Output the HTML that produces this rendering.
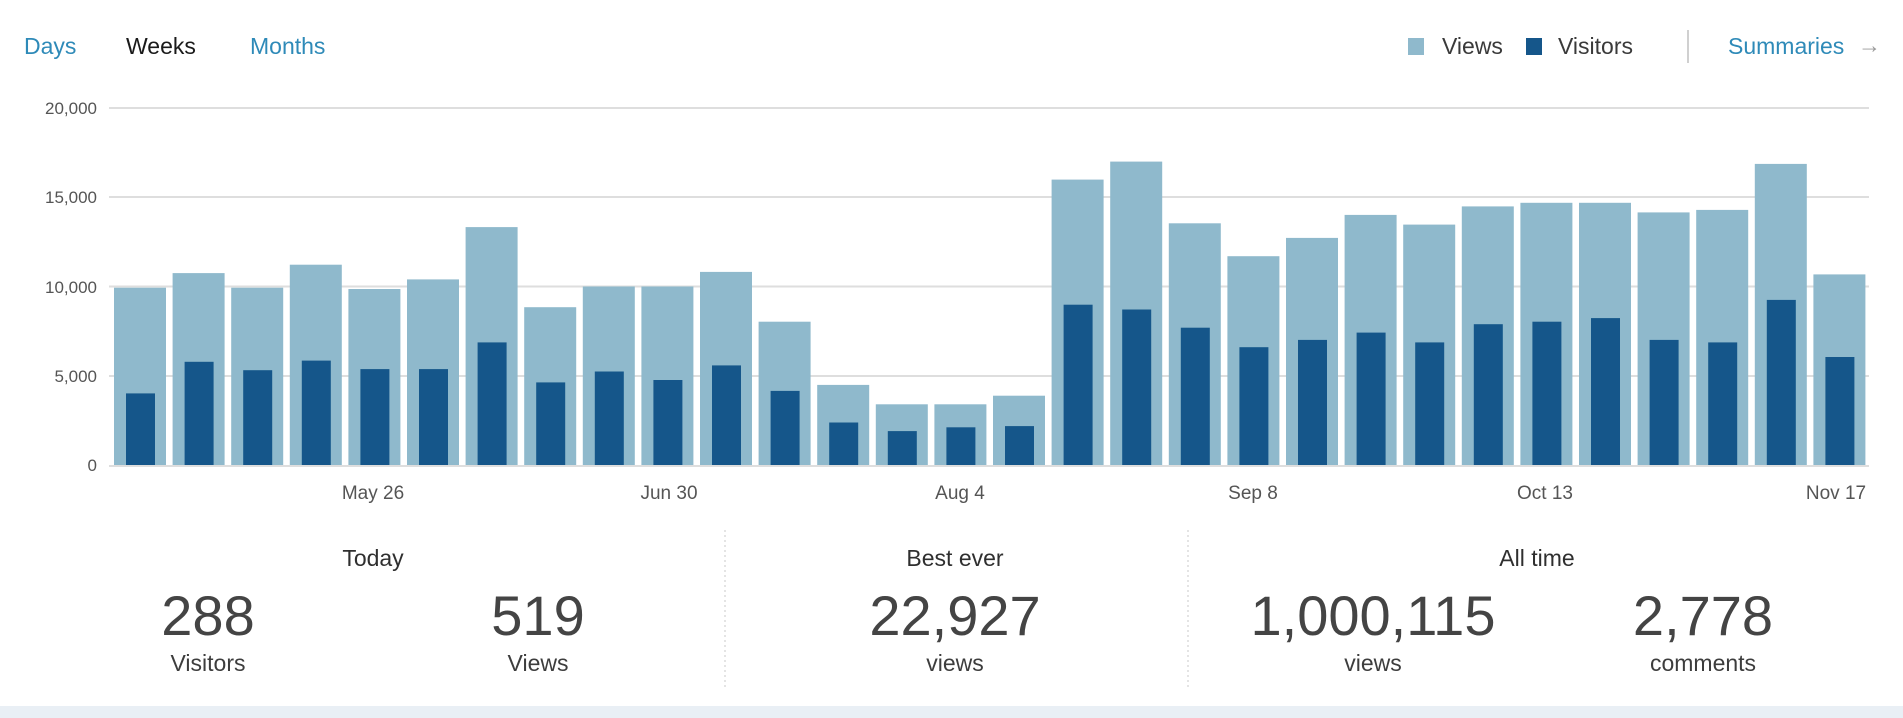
<!DOCTYPE html>
<html><head><meta charset="utf-8"><style>
body{margin:0;width:1903px;height:718px;background:#fff;overflow:hidden;font-family:"Liberation Sans",sans-serif;}
</style></head><body>
<svg width="1903" height="718" xmlns="http://www.w3.org/2000/svg" style="display:block">
<rect x="0" y="706" width="1903" height="12" fill="#e9eff5"/>
<g font-size="23" font-family="Liberation Sans, sans-serif">
<text x="24" y="54" fill="#2e8ab8">Days</text>
<text x="126" y="54" fill="#1a1a1a">Weeks</text>
<text x="250" y="54" fill="#2e8ab8">Months</text>
<rect x="1408" y="38" width="16" height="17" fill="#8fb9cc"/>
<text x="1442" y="54" fill="#3a3a3a">Views</text>
<rect x="1526" y="38" width="16" height="17" fill="#15568a"/>
<text x="1558" y="54" fill="#3a3a3a">Visitors</text>
<rect x="1687" y="30" width="2" height="33" fill="#d0d0d0"/>
<text x="1728" y="54" fill="#2e8ab8">Summaries</text>
<text x="1858" y="53" fill="#999" font-size="23">→</text>
</g>
<g stroke="#dedede" stroke-width="2">
<line x1="109" y1="108" x2="1869" y2="108"/>
<line x1="109" y1="197" x2="1869" y2="197"/>
<line x1="109" y1="286.5" x2="1869" y2="286.5"/>
<line x1="109" y1="376" x2="1869" y2="376"/>
<line x1="109" y1="466" x2="1869" y2="466"/>
</g>
<g font-size="17" fill="#555" text-anchor="end" font-family="Liberation Sans, sans-serif">
<text x="97" y="114">20,000</text>
<text x="97" y="203">15,000</text>
<text x="97" y="293">10,000</text>
<text x="97" y="382">5,000</text>
<text x="97" y="471">0</text>
</g>
<g id="bars"></g>
<g font-size="19" fill="#555" text-anchor="middle" font-family="Liberation Sans, sans-serif">
<text x="373" y="499">May 26</text>
<text x="669" y="499">Jun 30</text>
<text x="960" y="499">Aug 4</text>
<text x="1253" y="499">Sep 8</text>
<text x="1545" y="499">Oct 13</text>
<text x="1836" y="499">Nov 17</text>
</g>
<g stroke="#c8c8c8" stroke-width="1" stroke-dasharray="2,3">
<line x1="725" y1="530" x2="725" y2="687"/>
<line x1="1188" y1="530" x2="1188" y2="687"/>
</g>
<g fill="#2f2f2f" text-anchor="middle" font-family="Liberation Sans, sans-serif">
<g font-size="23">
<text x="373" y="566">Today</text>
<text x="955" y="566">Best ever</text>
<text x="1537" y="566">All time</text>
</g>
<g font-size="56" fill="#444">
<text x="208" y="635">288</text>
<text x="538" y="635">519</text>
<text x="955" y="635">22,927</text>
<text x="1373" y="635">1,000,115</text>
<text x="1703" y="635">2,778</text>
</g>
<g font-size="23" fill="#3d3d3d">
<text x="208" y="671">Visitors</text>
<text x="538" y="671">Views</text>
<text x="955" y="671">views</text>
<text x="1373" y="671">views</text>
<text x="1703" y="671">comments</text>
</g>
</g>
</svg>
<script>
var V=[9930,10750,9930,11220,9860,10400,13330,8840,10000,10000,10820,8030,4490,3400,3400,3880,15990,17000,13540,11700,12720,14010,13470,14490,14690,14690,14150,14290,16870,10680];
var U=[4010,5780,5310,5850,5370,5370,6870,4630,5240,4760,5580,4150,2380,1900,2110,2180,8980,8710,7690,6600,7010,7420,6870,7890,8030,8230,7010,6870,9250,6050];
var g=document.getElementById('bars'),h='';
function y(v){return 465-v*357/20000;}
for(var i=0;i<30;i++){var x=114+i*58.6;
h+='<rect x="'+x.toFixed(1)+'" y="'+y(V[i]).toFixed(1)+'" width="52" height="'+(465-y(V[i])).toFixed(1)+'" fill="#8fb9cc"/>';
h+='<rect x="'+(x+12).toFixed(1)+'" y="'+y(U[i]).toFixed(1)+'" width="29" height="'+(465-y(U[i])).toFixed(1)+'" fill="#15568a"/>';}
g.innerHTML=h;
</script>
</body></html>
